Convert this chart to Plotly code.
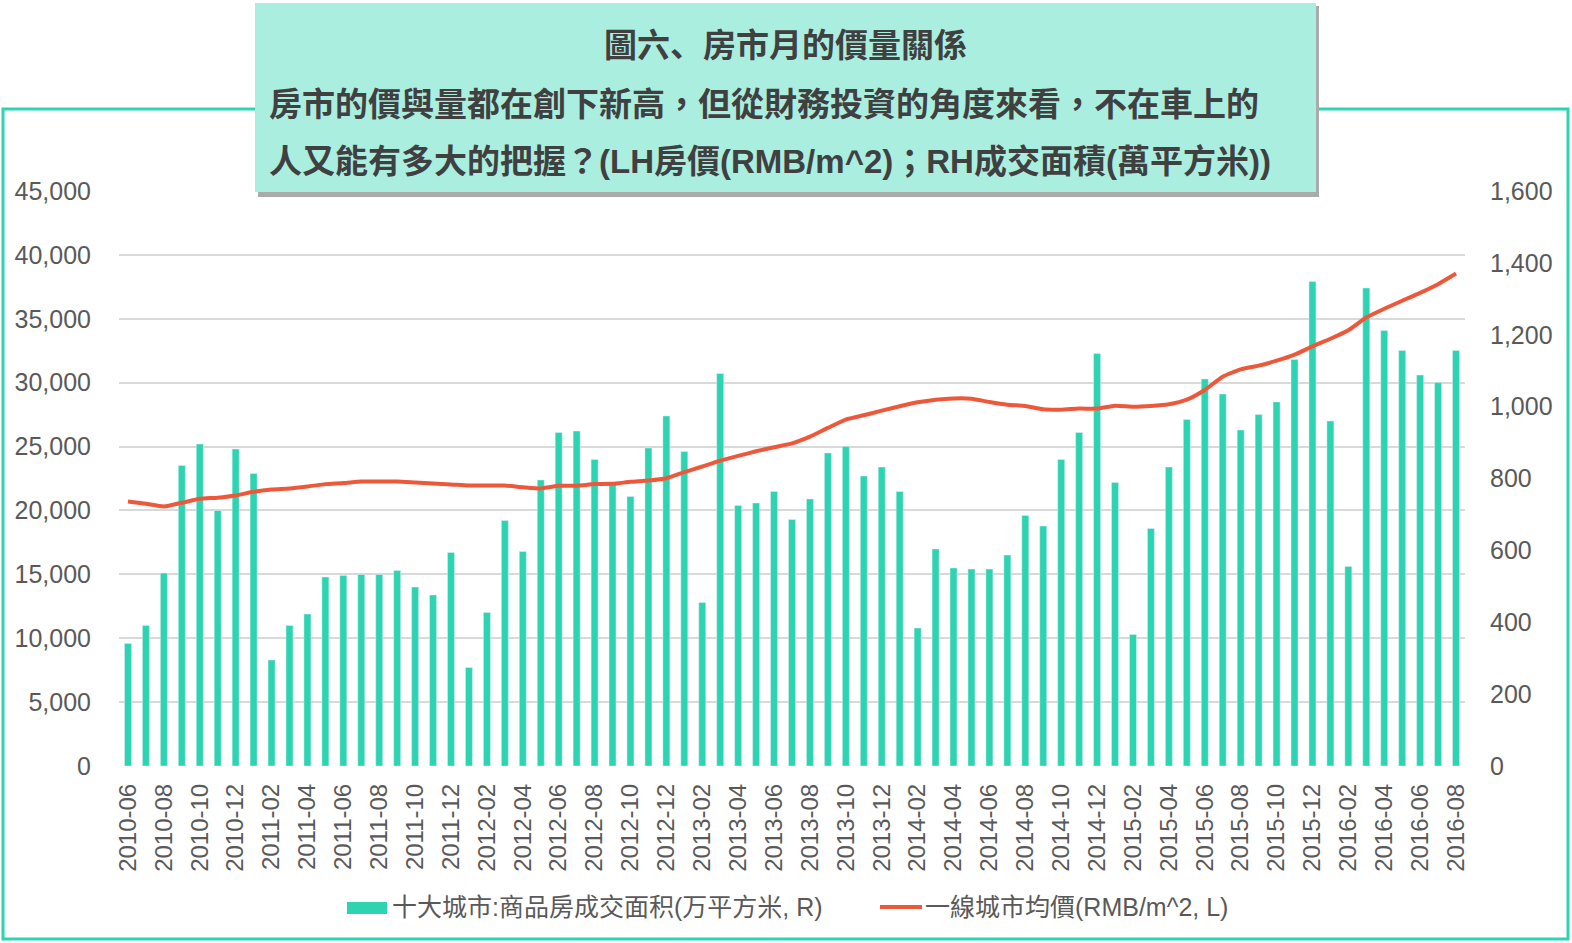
import pandas as pd
import plotly.graph_objects as go

# monthly categories 2010-06 .. 2016-08
months = pd.period_range("2010-06", "2016-08", freq="M").strftime("%Y-%m").tolist()
tick_months = months[::2]

# 十大城市 商品房成交面积 (万平方米, right axis)
area = [341, 391, 537, 836, 896, 711, 882, 814, 295, 391, 423, 526, 530, 533, 533,
        544, 498, 476, 594, 274, 427, 683, 597, 796, 928, 932, 853, 789, 750, 885,
        974, 875, 455, 1092, 725, 732, 764, 686, 743, 871, 889, 807, 832, 764, 384,
        604, 551, 548, 548, 587, 697, 668, 853, 928, 1148, 789, 366, 661, 832, 964,
        1077, 1035, 935, 978, 1013, 1131, 1348, 960, 555, 1330, 1212, 1156, 1088, 1067, 1156]

# 一線城市均價 (RMB/m^2, left axis)
price = [20700, 20520, 20310, 20600, 20910, 21000, 21170, 21460, 21640, 21720, 21875, 22060,
         22140, 22270, 22270, 22270, 22190, 22110, 22040, 21950, 21950, 21950, 21820, 21720,
         21930, 21930, 22060, 22080, 22240, 22340, 22520, 23000, 23440, 23900, 24270, 24630,
         24950, 25250, 25780, 26460, 27110, 27450, 27810, 28150, 28460, 28670, 28770, 28750,
         28490, 28280, 28180, 27920, 27890, 27970, 27970, 28200, 28120, 28180, 28310, 28670,
         29430, 30470, 31040, 31330, 31720, 32190, 32840, 33440, 34110, 35100, 35780, 36410,
         37030, 37710, 38540]

bar_name = "十大城市:商品房成交面积(万平方米, R)"
line_name = "一線城市均價(RMB/m^2, L)"
title_lines = ["圖六、房市月的價量關係",
               "房市的價與量都在創下新高，但從財務投資的角度來看，不在車上的",
               "人又能有多大的把握？(LH房價(RMB/m^2)；RH成交面積(萬平方米))"]

W, H = 1572, 943
L, R, T, B = 119, 1572 - 1465, 191, 943 - 766
TEAL = "#2DD4B2"
RED = "#EE583A"
GREY = "#595959"
FONT = "Liberation Sans, Arial, Noto Sans CJK TC"
# the first title line uses the corner-placed 、 of the SC face
FONT_SC = "Liberation Sans, Arial, Noto Sans CJK SC"


def px(x):
    # pixel x on the page -> paper coordinate
    return (x - L) / (W - L - R)


def py(y):
    return (H - B - y) / (H - T - B)


fig = go.Figure()
fig.add_trace(go.Bar(x=months, y=area, name=bar_name, marker_color=TEAL,
                     yaxis="y"))
fig.add_trace(go.Scatter(x=months, y=price, name=line_name, mode="lines",
                         line=dict(color=RED, width=4, shape="spline", smoothing=0.5),
                         yaxis="y2"))

shapes = [
    # outer frame
    dict(type="rect", xref="paper", yref="paper", x0=px(3), x1=px(1568),
         y0=py(939), y1=py(109), line=dict(color=TEAL, width=3), layer="below"),
    # title box shadow + box
    dict(type="rect", xref="paper", yref="paper", x0=px(258), x1=px(1319),
         y0=py(197), y1=py(6), fillcolor="#ABABAB", line=dict(width=0), layer="above"),
    dict(type="rect", xref="paper", yref="paper", x0=px(255), x1=px(1316),
         y0=py(192), y1=py(3), fillcolor="#AAEEE0", line=dict(width=0), layer="above"),
    # legend symbols
    dict(type="rect", xref="paper", yref="paper", x0=px(347), x1=px(387),
         y0=py(914), y1=py(902), fillcolor=TEAL, line=dict(width=0)),
    dict(type="line", xref="paper", yref="paper", x0=px(880), x1=px(922),
         y0=py(907), y1=py(907), line=dict(color=RED, width=4)),
]

annotations = [
    dict(text="<b>%s</b>" % title_lines[0], x=px(785), y=py(45), xanchor="center",
         font=dict(family=FONT_SC, size=33, color="#404040")),
    dict(text="<b>%s</b>" % title_lines[1], x=px(267), y=py(104), xanchor="left"),
    dict(text="<b>%s</b>" % title_lines[2], x=px(267), y=py(162), xanchor="left"),
]
for a in annotations:
    a.update(xref="paper", yref="paper", yanchor="middle", showarrow=False)
    a.setdefault("font", dict(family=FONT, size=33, color="#404040"))
annotations += [
    dict(text=bar_name, x=px(390), y=py(907)),
    dict(text=line_name, x=px(923), y=py(907)),
]
for a in annotations[3:]:
    a.update(xref="paper", yref="paper", xanchor="left", yanchor="middle",
             showarrow=False, font=dict(family=FONT, size=25, color=GREY))

fig.update_layout(
    width=W, height=H,
    margin=dict(l=L, r=R, t=T, b=B),
    paper_bgcolor="white", plot_bgcolor="white",
    showlegend=False,
    bargap=0.61,
    font=dict(family=FONT, size=24, color=GREY),
    xaxis=dict(type="category", tickmode="array", tickvals=tick_months,
               tickangle=-90, ticks="", showgrid=False, showline=False,
               ticklabelstandoff=12, tickfont=dict(size=24, color=GREY)),
    yaxis=dict(side="right", range=[0, 1600], dtick=200, tickformat=",",
               showgrid=False, zeroline=False, ticks="", ticklabelstandoff=24,
               tickfont=dict(size=25, color=GREY)),
    yaxis2=dict(side="left", overlaying="y", range=[0, 45000], dtick=5000,
                tickformat=",", showgrid=True, gridcolor="#D9D9D9", gridwidth=1.5,
                zeroline=False, ticks="", ticklabelstandoff=27,
                tickfont=dict(size=25, color=GREY)),
    shapes=shapes,
    annotations=annotations,
)

# drop the default 8px body margin so the figure sits in the page corner
fig.write_html("out.html", config={"displayModeBar": False},
               post_script="document.body.style.margin = '0';")
